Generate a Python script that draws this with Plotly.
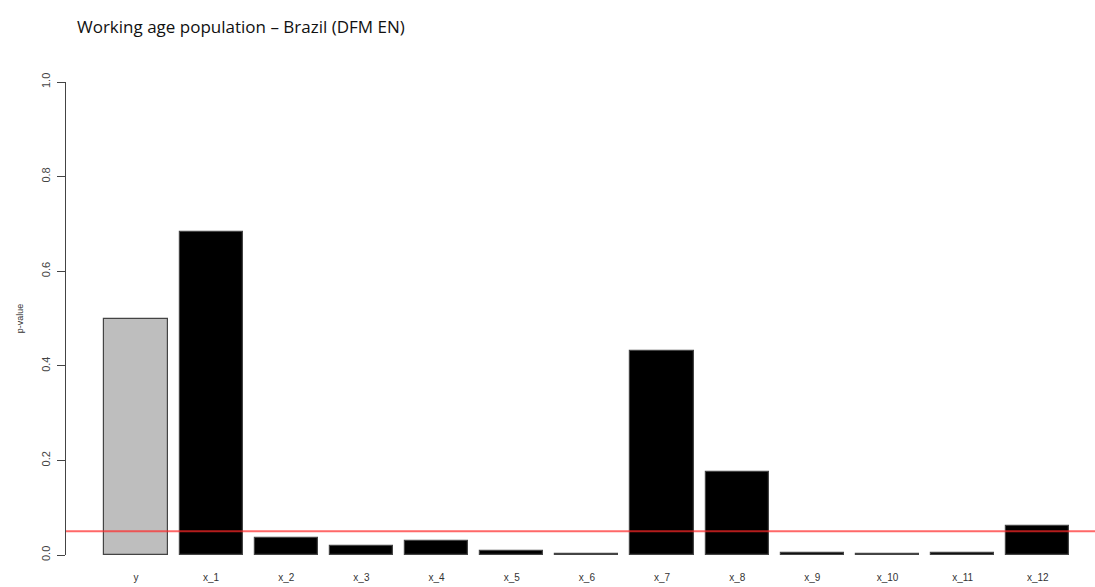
import plotly.graph_objects as go

# p-values per variable
labels = ["y", "x_1", "x_2", "x_3", "x_4", "x_5", "x_6",
          "x_7", "x_8", "x_9", "x_10", "x_11", "x_12"]
pvalues = [0.498, 0.683, 0.037, 0.018, 0.029, 0.008, 0.002,
           0.431, 0.176, 0.005, 0.002, 0.005, 0.062]
threshold = 0.05
yticks = [0.0, 0.2, 0.4, 0.6, 0.8, 1.0]

positions = list(range(len(labels)))
colors = ["#bebebe"] + ["#000000"] * (len(labels) - 1)

fig = go.Figure()
fig.add_trace(go.Bar(
    x=positions,
    y=pvalues,
    width=0.84,
    marker=dict(color=colors, line=dict(color="#444444", width=1.2)),
    hoverinfo="x+y",
))

fig.add_shape(
    type="line", xref="paper", yref="y",
    x0=0, x1=1, y0=threshold, y1=threshold,
    line=dict(color="rgba(255,40,40,0.7)", width=2),
    layer="above",
)

fig.update_layout(
    width=1095, height=587,
    margin=dict(l=66, r=0, t=82, b=32),
    paper_bgcolor="white", plot_bgcolor="white",
    showlegend=False,
    bargap=0,
    title=dict(
        text="Working age population \u2013 Brazil (DFM EN)",
        xref="container", yref="container",
        x=77 / 1095, xanchor="left",
        y=1 - 27 / 587, yanchor="middle",
        font=dict(family="Open Sans, Noto Sans, sans-serif", size=17, color="#111111"),
    ),
    xaxis=dict(
        range=[-0.931, 12.761],
        tickmode="array",
        tickvals=positions,
        ticktext=labels,
        showline=False, showgrid=False, zeroline=False,
        ticks="outside", ticklen=13, tickcolor="rgba(0,0,0,0)",
        tickfont=dict(family="Liberation Sans, Arial, sans-serif", size=10, color="#333333"),
    ),
    yaxis=dict(
        range=[0, 1],
        tickmode="array",
        tickvals=yticks,
        ticktext=[f"{v:.1f}" for v in yticks],
        tickangle=-90,
        showline=True, linecolor="#444444", linewidth=1.2,
        showgrid=False, zeroline=False,
        ticks="outside", ticklen=8, tickcolor="#444444", tickwidth=1.2,
        ticklabelstandoff=3,
        tickfont=dict(family="Liberation Sans, Arial, sans-serif", size=11, color="#444444"),
        title=dict(
            text="p-value", standoff=14,
            font=dict(family="Liberation Sans, Arial, sans-serif", size=9, color="#333333"),
        ),
    ),
)

fig.write_html("out.html")
